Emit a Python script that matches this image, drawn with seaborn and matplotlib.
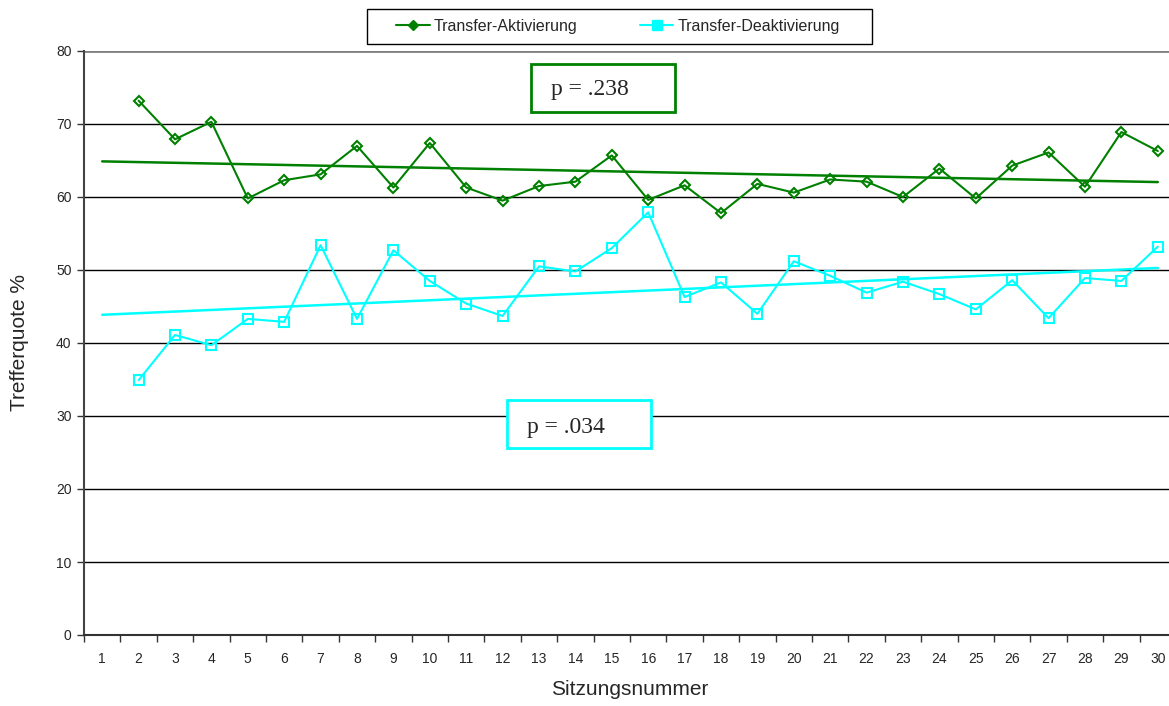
import numpy as np
import pandas as pd
import matplotlib
matplotlib.use("Agg")
import matplotlib.pyplot as plt
from matplotlib.lines import Line2D
from matplotlib.patches import Rectangle
import seaborn as sns

sessions = list(range(1, 31))
aktivierung = [np.nan, 73.2, 67.9, 70.3, 59.8, 62.3, 63.1, 67.0, 61.3, 67.4,
               61.3, 59.5, 61.5, 62.1, 65.7, 59.6, 61.6, 57.8, 61.8, 60.6,
               62.4, 62.1, 60.0, 63.9, 59.8, 64.3, 66.1, 61.4, 68.9, 66.3]
deaktivierung = [np.nan, 34.9, 41.1, 39.7, 43.3, 42.9, 53.4, 43.3, 52.7, 48.5,
                 45.4, 43.7, 50.5, 49.8, 53.0, 57.9, 46.3, 48.3, 44.0, 51.2,
                 49.2, 46.9, 48.4, 46.7, 44.6, 48.6, 43.4, 48.9, 48.5, 53.2]
series_names = ["Transfer-Aktivierung", "Transfer-Deaktivierung"]
p_labels = ["p = .238", "p = .034"]
colors = ["#008000", "#00FFFF"]

sns.set_theme(style="white")
plt.rcParams['font.family'] = ['Liberation Sans', 'DejaVu Sans']

W, H = 1169, 706
fig = plt.figure(figsize=(W/100, H/100), dpi=100)
ax = fig.add_axes([84/W, 1-635/H, (1176-84)/W, (635-51)/H])

df = pd.DataFrame({"Sitzung": sessions, series_names[0]: aktivierung,
                   series_names[1]: deaktivierung})

# grid lines
for yv in range(10, 81, 10):
    ax.axhline(yv, color="black" if yv < 80 else "#808080", lw=1.0 if yv < 80 else 2.0, zorder=0)

markers = ["D", "s"]
msizes = [5.5, 7.5]
for name, c, m, ms in zip(series_names, colors, markers, msizes):
    sub = df[["Sitzung", name]].dropna()
    sns.lineplot(x=sub["Sitzung"], y=sub[name], ax=ax, color=c, lw=1.5,
                 marker=m, markersize=ms, markerfacecolor="none",
                 markeredgecolor=c, markeredgewidth=1.5, zorder=3)
    # linear trend line from the data
    k, b = np.polyfit(sub["Sitzung"], sub[name], 1)
    xs = np.array([sessions[0], sessions[-1]])
    sns.lineplot(x=xs, y=k*xs + b, ax=ax, color=c, lw=1.8, zorder=2)

ax.set_xlim(0.5, 30.5)
ax.set_ylim(0, 80)
ax.set_xticks(sessions)
ax.set_xticklabels([str(s) for s in sessions], fontsize=10)
ax.set_xticks(np.arange(0.5, 31, 1), minor=True)
ax.tick_params(axis="x", which="major", length=0, pad=12)
ax.tick_params(axis="x", which="minor", length=5, width=1, color="#333333", direction="out", bottom=True)
ax.set_yticks(range(0, 81, 10))
ax.set_yticklabels([str(v) for v in range(0, 81, 10)], fontsize=10)
ax.tick_params(axis="y", length=5, width=1, color="#333333", direction="out", left=True, pad=4)

for s in ["top", "right"]:
    ax.spines[s].set_visible(False)
ax.spines["left"].set_color("#444444")
ax.spines["left"].set_linewidth(1.5)
ax.spines["bottom"].set_color("#333333")
ax.spines["bottom"].set_linewidth(1.5)

ax.set_xlabel("Sitzungsnummer", fontsize=15, labelpad=10)
ax.set_ylabel("Trefferquote %", fontsize=15, labelpad=19)

# p-value boxes
box_rects = [(531, 64, 675, 112), (507, 400, 651, 448)]
text_pos = [(551, 89), (527, 427)]
for (x0, y0, x1, y1), (tx, ty), lab, c in zip(box_rects, text_pos, p_labels, colors):
    fig.patches.append(Rectangle((x0/W, 1-y1/H), (x1-x0)/W, (y1-y0)/H,
                                 transform=fig.transFigure, fc="white", ec=c, lw=2, zorder=5))
    fig.text(tx/W, 1-ty/H, lab, fontsize=17, family="Liberation Serif",
             va="center", ha="left", zorder=6)

# legend frame
fig.patches.append(Rectangle((366.5/W, 1-44/H), (872-366.5)/W, (44-8.5)/H,
                             transform=fig.transFigure, fc="white", ec="black", lw=1.0))
handles = [Line2D([], [], color=c, marker=m, markersize=5.5 if m == "D" else 6.5, lw=1.5)
           for c, m in zip(colors, markers)]
leg = fig.legend(handles, series_names, loc="center", bbox_to_anchor=(618/W, 1-26.5/H),
                 ncol=2, frameon=False, fontsize=11.5, handlelength=2.1,
                 handletextpad=0.25, columnspacing=3.9, borderpad=0.0, borderaxespad=0)

fig.savefig("out.png", dpi=100)
